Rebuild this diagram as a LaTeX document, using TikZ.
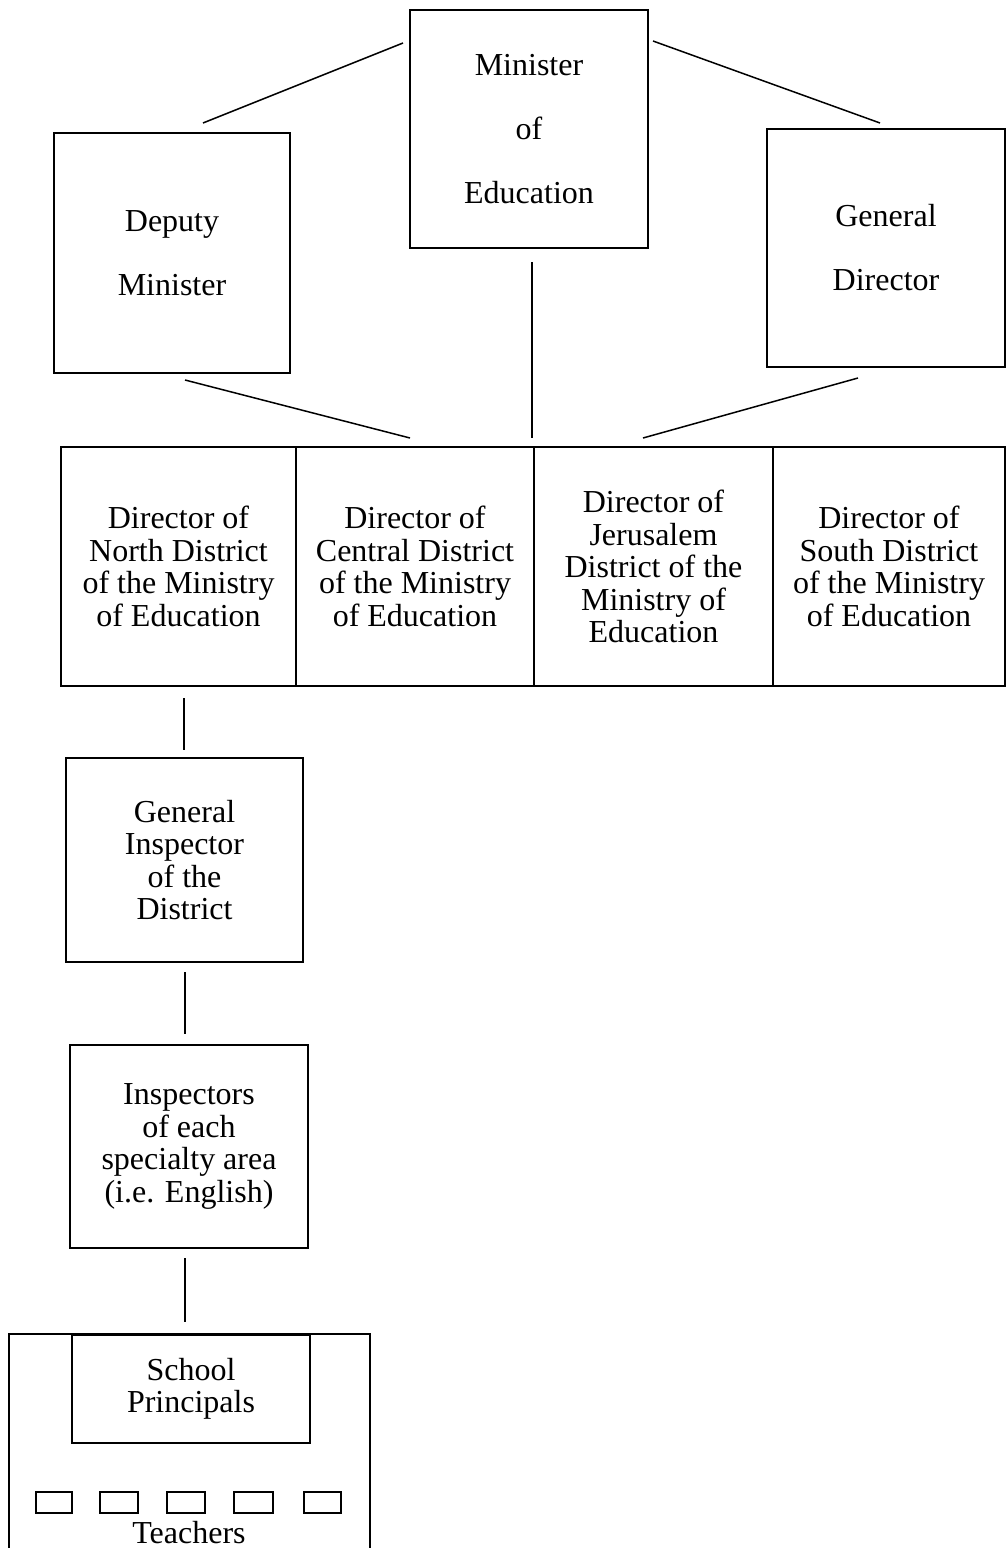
\documentclass[tikz,border=0pt]{standalone}
\usepackage{fontspec}
\setmainfont{Liberation Serif}
\begin{document}
\begin{tikzpicture}[x=1pt,y=-1pt,
  box/.style={draw, line width=1.5pt, rectangle, inner sep=0pt, align=center,
    font=\fontsize{32}{32.5}\selectfont},
  topbox/.style={box, font=\fontsize{32}{64}\selectfont},
  tbox/.style={draw, line width=1.3pt, rectangle, inner sep=0pt, minimum height=21pt},
  conn/.style={line width=1.5pt}]
\useasboundingbox (0,0) rectangle (1007,1548);
% top level
\node[topbox, minimum width=238pt, minimum height=238pt] (min) at (529,129) {Minister\\of\\Education};
\node[topbox, minimum width=236pt, minimum height=240pt] (dep) at (172,253) {Deputy\\Minister};
\node[topbox, minimum width=238pt, minimum height=238pt] (gd) at (886,248) {General\\Director};
% districts
\node[box, minimum width=235pt, minimum height=239pt] (n1) at (178.5,566.5) {Director of\\North District\\of the Ministry\\of Education};
\node[box, minimum width=238pt, minimum height=239pt] (n2) at (415,566.5) {Director of\\Central District\\of the Ministry\\of Education};
\node[box, minimum width=239pt, minimum height=239pt] (n3) at (653.5,566.5) {Director of\\Jerusalem\\District of the\\Ministry of\\Education};
\node[box, minimum width=232pt, minimum height=239pt] (n4) at (889,566.5) {Director of\\South District\\of the Ministry\\of Education};
% chain
\node[box, minimum width=237pt, minimum height=204pt] (gi) at (184.5,860) {General\\Inspector\\of the\\District};
\node[box, minimum width=238pt, minimum height=203pt] (ins) at (189,1146.5) {Inspectors\\of each\\specialty area\\(i.e. English)};
\node[box, minimum width=238pt, minimum height=108pt] (pr) at (191,1389) {School\\Principals};
\draw[line width=1.5pt] (9,1560) -- (9,1334) -- (370,1334) -- (370,1560);
\node[tbox, minimum width=36pt] (t1) at (54,1502.5) {};
\node[tbox, minimum width=38pt] (t2) at (119,1502.5) {};
\node[tbox, minimum width=38pt] (t3) at (186,1502.5) {};
\node[tbox, minimum width=39pt] (t4) at (253.5,1502.5) {};
\node[tbox, minimum width=37pt] (t5) at (322.5,1502.5) {};
\node[font=\fontsize{32}{32.5}\selectfont, inner sep=0pt] (tch) at (189,1533) {Teachers};
% connector end points
\coordinate (a1) at (403,43); \coordinate (a2) at (203,123);
\coordinate (b1) at (653,41); \coordinate (b2) at (880,123);
\coordinate (c1) at (185,380); \coordinate (c2) at (410,438);
\coordinate (d1) at (532,262); \coordinate (d2) at (532,438);
\coordinate (e1) at (858,378); \coordinate (e2) at (643,438);
\coordinate (f1) at (184,698); \coordinate (f2) at (184,750);
\coordinate (g1) at (185,972); \coordinate (g2) at (185,1034);
\coordinate (h1) at (185,1258); \coordinate (h2) at (185,1322);
\draw[conn] (a1) -- (a2);
\draw[conn] (b1) -- (b2);
\draw[conn] (c1) -- (c2);
\draw[conn] (d1) -- (d2);
\draw[conn] (e1) -- (e2);
\draw[conn] (f1) -- (f2);
\draw[conn] (g1) -- (g2);
\draw[conn] (h1) -- (h2);
\end{tikzpicture}
\end{document}
